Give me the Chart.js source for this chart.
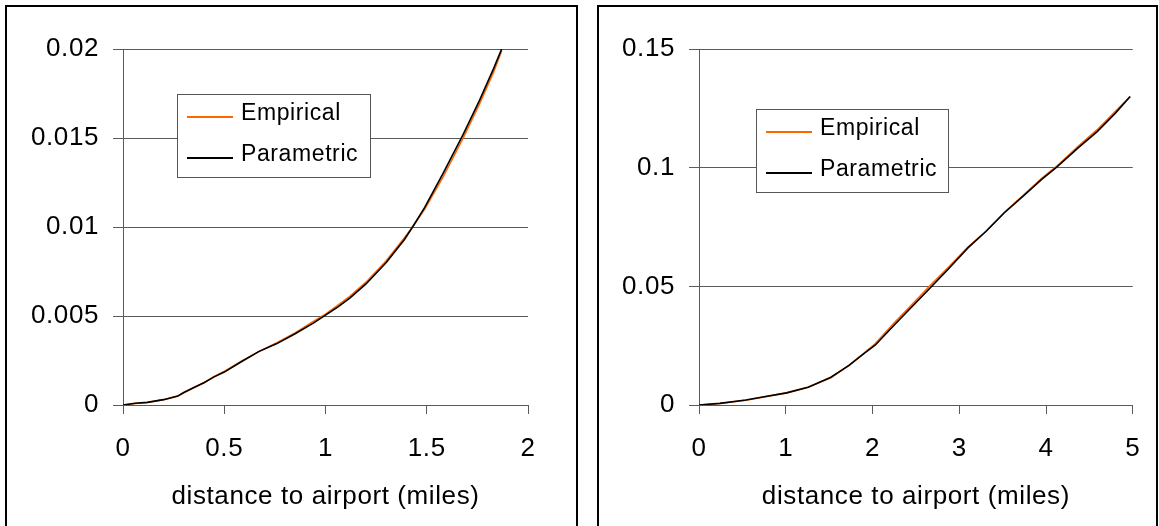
<!DOCTYPE html>
<html>
<head>
<meta charset="utf-8">
<script src="https://cdn.jsdelivr.net/npm/chart.js@4"></script>
<style>
  body { margin: 0; background: #fff; width: 1159px; height: 526px; overflow: hidden; position: relative; }
  .panel { position: absolute; border: 2px solid #000; box-sizing: border-box; }
  canvas { position: absolute; top: 0; }
</style>
</head>
<body>
<div class="panel" style="left:5px; top:5px; width:573px; height:540px;"></div>
<div class="panel" style="left:597px; top:5px; width:561px; height:540px;"></div>
<canvas id="chartLeft" style="left:0px" width="580" height="526"></canvas>
<canvas id="chartRight" style="left:580px" width="579" height="526"></canvas>
<script>
// left panel : 0 - 2 miles
const milesShort = [0, 0.06, 0.12, 0.2, 0.27, 0.3, 0.35, 0.4, 0.45, 0.5, 0.58, 0.67, 0.76, 0.85, 0.94, 1.0, 1.06, 1.12, 1.2, 1.3, 1.39, 1.43, 1.49, 1.58, 1.68, 1.76, 1.83, 1.87]
const paramShort = [0, 0.0001, 0.00015, 0.0003, 0.0005, 0.0007, 0.00098, 0.00125, 0.00158, 0.00185, 0.0024, 0.003, 0.00345, 0.004, 0.0046, 0.00505, 0.0055, 0.006, 0.0068, 0.008, 0.0093, 0.01, 0.0111, 0.013, 0.0152, 0.0171, 0.0189, 0.02]
const empShort = [0, 0.00008, 0.00014, 0.0003, 0.00049, 0.00069, 0.00097, 0.00126, 0.0016, 0.00188, 0.00243, 0.003, 0.0035, 0.00405, 0.0047, 0.0051, 0.0056, 0.0061, 0.0069, 0.0081, 0.0094, 0.01, 0.011, 0.0128, 0.015, 0.0169, 0.0187, 0.0199]

// right panel : 0 - 5 miles
const milesLong = [0, 0.24, 0.54, 0.75, 1.01, 1.26, 1.52, 1.73, 1.9, 2.03, 2.24, 2.46, 2.67, 2.88, 3.1, 3.31, 3.52, 3.74, 3.95, 4.12, 4.37, 4.59, 4.8, 4.97]
const paramLong = [0, 0.0007, 0.0021, 0.0035, 0.0051, 0.0075, 0.0117, 0.0167, 0.0216, 0.0252, 0.0333, 0.0416, 0.0495, 0.0575, 0.0662, 0.0732, 0.081, 0.0881, 0.0951, 0.1001, 0.1083, 0.1152, 0.123, 0.13]
const empLong = [0, 0.0006, 0.002, 0.0034, 0.0051, 0.0076, 0.0115, 0.0168, 0.0218, 0.0258, 0.0342, 0.0425, 0.0505, 0.0582, 0.0665, 0.0733, 0.0812, 0.0884, 0.0955, 0.1005, 0.109, 0.116, 0.1237, 0.13]

const seriesNames = ['Empirical', 'Parametric']
const seriesColors = ['#ff6600', '#000000']

const font = "'Liberation Sans', Arial, sans-serif"
const gridColor = '#5a5a5a'

function points(xs, ys) {
  return xs.map((x, i) => ({ x: x, y: ys[i] }))
}

// legend box drawn inside the plot, like the excel one
const boxLegend = {
  id: 'boxLegend',
  beforeDraw(chart) {
    chart.ctx.letterSpacing = '0.6px'
  },
  afterDraw(chart, args, opts) {
    const ctx = chart.ctx
    ctx.save()
    ctx.fillStyle = '#fff'
    ctx.fillRect(opts.x, opts.y, opts.w, opts.h)
    ctx.strokeStyle = '#555'
    ctx.lineWidth = 1
    ctx.strokeRect(opts.x + 0.5, opts.y + 0.5, opts.w, opts.h)
    ctx.font = '23px ' + font
    ctx.textBaseline = 'middle'
    ctx.textAlign = 'left'
    seriesNames.forEach((name, i) => {
      const ly = opts.y + 23 + i * 41
      ctx.strokeStyle = seriesColors[i]
      ctx.lineWidth = 2
      ctx.beginPath()
      ctx.moveTo(opts.x + 10, ly)
      ctx.lineTo(opts.x + 56, ly)
      ctx.stroke()
      ctx.fillStyle = '#000'
      ctx.fillText(name, opts.x + 64, ly - 3)
    })
    ctx.restore()
  }
}

function makeChart(id, xs, emp, param, xMax, xStep, yMax, yStep, yWidth, padRight, legendPos) {
  return new Chart(document.getElementById(id), {
    type: 'line',
    data: {
      datasets: [
        { label: seriesNames[1], data: points(xs, param), borderColor: seriesColors[1], borderWidth: 1.6, pointRadius: 0, tension: 0, order: 0 },
        { label: seriesNames[0], data: points(xs, emp), borderColor: seriesColors[0], borderWidth: 1.6, pointRadius: 0, tension: 0, order: 1 }
      ]
    },
    options: {
      responsive: false,
      animation: false,
      layout: { padding: { left: 0, right: padRight, top: 49, bottom: 0 } },
      plugins: {
        legend: { display: false },
        tooltip: { enabled: false },
        boxLegend: legendPos
      },
      scales: {
        x: {
          type: 'linear',
          min: 0,
          max: xMax,
          afterFit: (s) => { s.height = 121 },
          ticks: { stepSize: xStep, color: '#000', font: { family: font, size: 26 }, padding: 19, maxRotation: 0, callback: (v) => String(+v.toFixed(2)) },
          grid: { drawOnChartArea: false, drawTicks: true, tickLength: 9, color: gridColor },
          border: { display: true, color: gridColor },
          title: { display: true, text: 'distance to airport (miles)', color: '#000', font: { family: font, size: 26 }, padding: { top: 14, bottom: 14 } }
        },
        y: {
          min: 0,
          max: yMax,
          afterFit: (s) => { s.width = yWidth },
          ticks: { stepSize: yStep, color: '#000', font: { family: font, size: 26 }, padding: 14, callback: (v) => String(+v.toFixed(4)) },
          grid: { color: gridColor, tickLength: 10 },
          border: { display: true, color: gridColor }
        }
      }
    },
    plugins: [boxLegend]
  })
}

makeChart('chartLeft', milesShort, empShort, paramShort, 2, 0.5, 0.02, 0.005, 123, 52, { x: 177, y: 94, w: 193, h: 83 })
makeChart('chartRight', milesLong, empLong, paramLong, 5, 1, 0.15, 0.05, 119, 26, { x: 176, y: 109, w: 192, h: 83 })
</script>
</body>
</html>
